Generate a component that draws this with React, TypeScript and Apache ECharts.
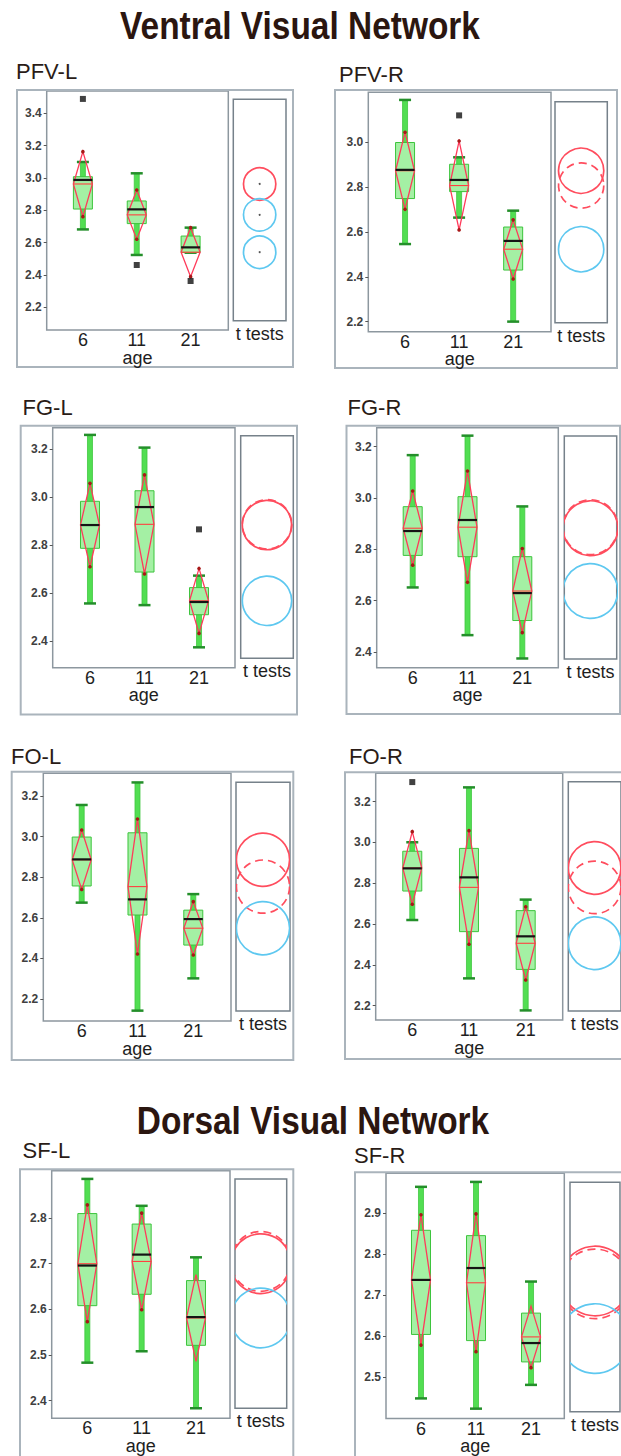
import React, { useEffect, useRef } from 'react';
import * as echarts from 'echarts';

const FONT = "'Liberation Sans', Arial, Helvetica, sans-serif";
const AGES = ['6', '11', '21'];

// ---------- data: [whiskerLow, q1, median, q3, whiskerHigh] per age ----------
const PFV_L_BOX = [[2.682, 2.808, 2.988, 3.008, 3.099], [2.524, 2.718, 2.806, 2.858, 3.029], [2.538, 2.54, 2.571, 2.641, 2.693]];
const PFV_L_MEAN = [2.963, 2.772, 2.541];
const PFV_L_CI = [[2.761, 3.163], [2.621, 2.926], [2.39, 2.693]];
const PFV_L_OUT = [[0, 3.489], [1, 2.462], [2, 2.363]];
const PFV_L_TICKS = [2.2, 2.4, 2.6, 2.8, 3.0, 3.2, 3.4];
const PFV_L_RADIUS = 0.1;
const PFV_L_CIRCLES = [0, 2, 2];

const PFV_R_BOX = [[2.546, 2.749, 2.877, 2.999, 3.189], [2.664, 2.78, 2.832, 2.902, 2.933], [2.2, 2.43, 2.56, 2.622, 2.695]];
const PFV_R_MEAN = [2.873, 2.807, 2.523];
const PFV_R_CI = [[2.701, 3.045], [2.609, 3.006], [2.39, 2.654]];
const PFV_R_OUT = [[1, 3.12]];
const PFV_R_TICKS = [2.2, 2.4, 2.6, 2.8, 3.0];
const PFV_R_RADIUS = 0.101;
const PFV_R_CIRCLES = [0, 1, 2];

const FG_L_BOX = [[2.557, 2.787, 2.884, 2.983, 3.26], [2.55, 2.688, 2.959, 3.027, 3.207], [2.374, 2.51, 2.563, 2.623, 2.673]];
const FG_L_MEAN = [2.884, 2.887, 2.568];
const FG_L_CI = [[2.71, 3.058], [2.68, 3.093], [2.432, 2.703]];
const FG_L_OUT = [[2, 2.866]];
const FG_L_TICKS = [2.4, 2.6, 2.8, 3.0, 3.2];
const FG_L_RADIUS = 0.103;
const FG_L_CIRCLES = [0, 1, 2];

const FG_R_BOX = [[2.651, 2.776, 2.871, 2.966, 3.167], [2.465, 2.771, 2.914, 3.005, 3.243], [2.374, 2.522, 2.629, 2.771, 2.967]];
const FG_R_MEAN = [2.882, 2.886, 2.637];
const FG_R_CI = [[2.738, 3.027], [2.671, 3.105], [2.475, 2.803]];
const FG_R_OUT: number[][] = [];
const FG_R_TICKS = [2.4, 2.6, 2.8, 3.0, 3.2];
const FG_R_RADIUS = 0.107;
const FG_R_CIRCLES = [0, 1, 2];

const FO_L_BOX = [[2.675, 2.757, 2.888, 2.998, 3.156], [2.143, 2.614, 2.691, 3.019, 3.267], [2.302, 2.466, 2.594, 2.638, 2.717]];
const FO_L_MEAN = [2.886, 2.754, 2.549];
const FO_L_CI = [[2.74, 3.033], [2.422, 3.087], [2.417, 2.68]];
const FO_L_OUT: number[][] = [];
const FO_L_TICKS = [2.2, 2.4, 2.6, 2.8, 3.0, 3.2];
const FO_L_RADIUS = 0.131;
const FO_L_CIRCLES = [0, 1, 2];

const FO_R_BOX = [[2.62, 2.762, 2.873, 2.957, 3.001], [2.334, 2.563, 2.829, 2.971, 3.27], [2.177, 2.378, 2.54, 2.666, 2.72]];
const FO_R_MEAN = [2.875, 2.78, 2.506];
const FO_R_CI = [[2.697, 3.053], [2.501, 3.058], [2.326, 2.685]];
const FO_R_OUT = [[0, 3.296]];
const FO_R_TICKS = [2.2, 2.4, 2.6, 2.8, 3.0, 3.2];
const FO_R_RADIUS = 0.129;
const FO_R_CIRCLES = [0, 1, 2];

const SF_L_BOX = [[2.483, 2.608, 2.696, 2.81, 2.886], [2.508, 2.633, 2.72, 2.787, 2.827], [2.383, 2.521, 2.583, 2.663, 2.714]];
const SF_L_MEAN = [2.7, 2.705, 2.581];
const SF_L_CI = [[2.573, 2.829], [2.599, 2.811], [2.486, 2.676]];
const SF_L_OUT: number[][] = [];
const SF_L_TICKS = [2.4, 2.5, 2.6, 2.7, 2.8];
const SF_L_RADIUS = 0.0655;
const SF_L_CIRCLES = [0, 1, 2];

const SF_R_BOX = [[2.448, 2.604, 2.737, 2.858, 2.964], [2.423, 2.589, 2.766, 2.845, 2.976], [2.481, 2.537, 2.583, 2.656, 2.733]];
const SF_R_MEAN = [2.737, 2.73, 2.598];
const SF_R_CI = [[2.578, 2.896], [2.562, 2.898], [2.523, 2.673]];
const SF_R_OUT: number[][] = [];
const SF_R_TICKS = [2.5, 2.6, 2.7, 2.8, 2.9];
const SF_R_RADIUS = 0.084;
const SF_R_CIRCLES = [0, 1, 2];

// ---------- layout (pixels) ----------
type Layout = {
  tx: number; ty: number;
  frame: number[]; grid: number[]; tFrame: number[];
  yMin: number; yMax: number; xMin: number; xMax: number;
};
const L_PFV_L: Layout = { tx: 16, ty: 71.7, frame: [17, 90, 293, 367], grid: [46.7, 91, 228.3, 330], tFrame: [233.3, 99.3, 286, 320.7], yMin: 2.06, yMax: 3.538, xMin: -0.672, xMax: 2.7 };
const L_PFV_R: Layout = { tx: 339, ty: 74.2, frame: [335, 90, 617, 368], grid: [368.3, 92.3, 551, 331.7], tFrame: [555, 101.7, 607.3, 322.7], yMin: 2.155, yMax: 3.223, xMin: -0.68, xMax: 2.7 };
const L_FG_L: Layout = { tx: 22.5, ty: 407.5, frame: [20.7, 425.7, 297, 714.6], grid: [52.7, 427.7, 235, 667.7], tFrame: [240.7, 435.7, 293.3, 658.3], yMin: 2.289, yMax: 3.29, xMin: -0.684, xMax: 2.66 };
const L_FG_R: Layout = { tx: 347.5, ty: 407.5, frame: [346.5, 425.7, 620, 714], grid: [376.7, 427.7, 558.3, 667.7], tFrame: [564.3, 436, 616.7, 659], yMin: 2.338, yMax: 3.274, xMin: -0.657, xMax: 2.657 };
const L_FO_L: Layout = { tx: 11, ty: 756.7, frame: [11.7, 771.7, 293.3, 1060], grid: [43.3, 773.3, 231, 1021], tFrame: [236, 782.3, 290, 1011], yMin: 2.092, yMax: 3.312, xMin: -0.688, xMax: 2.676 };
const L_FO_R: Layout = { tx: 349, ty: 756.7, frame: [345, 772.3, 626, 1059], grid: [375.7, 773.3, 562.7, 1020], tFrame: [568.3, 781.7, 622, 1011], yMin: 2.13, yMax: 3.339, xMin: -0.645, xMax: 2.653 };
const L_SF_L: Layout = { tx: 22.5, ty: 1150.8, frame: [20, 1169.3, 293.3, 1464], grid: [51.7, 1170.7, 230, 1418.3], tFrame: [235, 1179, 286.7, 1408.3], yMin: 2.361, yMax: 2.904, xMin: -0.656, xMax: 2.626 };
const L_SF_R: Layout = { tx: 354, ty: 1155, frame: [355, 1172.3, 630, 1464], grid: [386, 1173.3, 564.3, 1421], tFrame: [570, 1182.3, 623, 1411.7], yMin: 2.399, yMax: 2.997, xMin: -0.636, xMax: 2.605 };

const PANELS = [
  { name: 'PFV-L', box: PFV_L_BOX, mean: PFV_L_MEAN, ci: PFV_L_CI, out: PFV_L_OUT, ticks: PFV_L_TICKS, radius: PFV_L_RADIUS, circles: PFV_L_CIRCLES, dots: 1, L: L_PFV_L },
  { name: 'PFV-R', box: PFV_R_BOX, mean: PFV_R_MEAN, ci: PFV_R_CI, out: PFV_R_OUT, ticks: PFV_R_TICKS, radius: PFV_R_RADIUS, circles: PFV_R_CIRCLES, dots: 0, L: L_PFV_R },
  { name: 'FG-L', box: FG_L_BOX, mean: FG_L_MEAN, ci: FG_L_CI, out: FG_L_OUT, ticks: FG_L_TICKS, radius: FG_L_RADIUS, circles: FG_L_CIRCLES, dots: 0, L: L_FG_L },
  { name: 'FG-R', box: FG_R_BOX, mean: FG_R_MEAN, ci: FG_R_CI, out: FG_R_OUT, ticks: FG_R_TICKS, radius: FG_R_RADIUS, circles: FG_R_CIRCLES, dots: 0, L: L_FG_R },
  { name: 'FO-L', box: FO_L_BOX, mean: FO_L_MEAN, ci: FO_L_CI, out: FO_L_OUT, ticks: FO_L_TICKS, radius: FO_L_RADIUS, circles: FO_L_CIRCLES, dots: 0, L: L_FO_L },
  { name: 'FO-R', box: FO_R_BOX, mean: FO_R_MEAN, ci: FO_R_CI, out: FO_R_OUT, ticks: FO_R_TICKS, radius: FO_R_RADIUS, circles: FO_R_CIRCLES, dots: 0, L: L_FO_R },
  { name: 'SF-L', box: SF_L_BOX, mean: SF_L_MEAN, ci: SF_L_CI, out: SF_L_OUT, ticks: SF_L_TICKS, radius: SF_L_RADIUS, circles: SF_L_CIRCLES, dots: 0, L: L_SF_L },
  { name: 'SF-R', box: SF_R_BOX, mean: SF_R_MEAN, ci: SF_R_CI, out: SF_R_OUT, ticks: SF_R_TICKS, radius: SF_R_RADIUS, circles: SF_R_CIRCLES, dots: 0, L: L_SF_R },
];

const renderBox = (params: any, api: any) => {
  const x = api.value(0);
  const pt = (k: number) => api.coord([x, api.value(k)]);
  const pLo = pt(1), pQ1 = pt(2), pMed = pt(3), pQ3 = pt(4), pHi = pt(5);
  const pMean = pt(6), pCiLo = pt(7), pCiHi = pt(8);
  const cx = pLo[0];
  const bw = 19, hw = bw / 2, ww = 5, cw = 12;
  const hline = (y: number, w: number, stroke: string, lw: number) => ({
    type: 'line', shape: { x1: cx - w / 2, y1: y, x2: cx + w / 2, y2: y }, style: { stroke, lineWidth: lw },
  });
  return {
    type: 'group',
    children: [
      { type: 'rect', shape: { x: cx - ww / 2, y: pHi[1], width: ww, height: pLo[1] - pHi[1] }, style: { fill: '#52de52', stroke: '#40c640', lineWidth: 0.8 } },
      hline(pHi[1], cw, '#248f2a', 2.5),
      hline(pLo[1], cw, '#248f2a', 2.5),
      { type: 'rect', shape: { x: cx - hw, y: pQ3[1], width: bw, height: pQ1[1] - pQ3[1] }, style: { fill: '#a4f0a4', stroke: '#3cc43c', lineWidth: 1 } },
      { type: 'polygon', shape: { points: [[cx, pCiHi[1]], [cx + hw, pMean[1]], [cx, pCiLo[1]], [cx - hw, pMean[1]]] }, style: { fill: 'none', stroke: '#ff3a5a', lineWidth: 1.3 } },
      hline(pMean[1], bw, '#ff4040', 1.1),
      hline(pMed[1], bw, '#151515', 2.2),
      { type: 'circle', shape: { cx, cy: pCiHi[1], r: 1.8 }, style: { fill: '#a81818' } },
      { type: 'circle', shape: { cx, cy: pCiLo[1], r: 1.8 }, style: { fill: '#a81818' } },
    ],
  };
};

const renderCircle = (params: any, api: any) => {
  const c = api.coord([0, api.value(1)]);
  const r = api.size([0, api.value(2)])[1];
  const s = api.value(3);
  const dot = api.value(4);
  const color = s === 2 ? '#5ec8f0' : '#ff4d5e';
  const children: any[] = [
    { type: 'circle', shape: { cx: c[0], cy: c[1], r }, style: { fill: 'none', stroke: color, lineWidth: 1.7, lineDash: s === 1 ? [8, 5] : null } },
  ];
  if (dot) children.push({ type: 'circle', shape: { cx: c[0], cy: c[1], r: 1 }, style: { fill: '#555' } });
  return { type: 'group', children };
};

function buildOption() {
  const grid: any[] = [], xAxis: any[] = [], yAxis: any[] = [], series: any[] = [], graphic: any[] = [];

  graphic.push({ type: 'text', x: 300, y: 26.5, scaleX: 0.88, style: { text: 'Ventral Visual Network', font: `bold 38px ${FONT}`, fill: '#2b1610', align: 'center', verticalAlign: 'middle' } });
  graphic.push({ type: 'text', x: 313, y: 1121, scaleX: 0.88, style: { text: 'Dorsal Visual Network', font: `bold 38px ${FONT}`, fill: '#2b1610', align: 'center', verticalAlign: 'middle' } });

  PANELS.forEach((p, i) => {
    const L = p.L;
    const g = L.grid, t = L.tFrame, f = L.frame;
    const gi = 2 * i, ti = 2 * i + 1;

    graphic.push({ type: 'rect', shape: { x: f[0], y: f[1], width: f[2] - f[0], height: f[3] - f[1] }, style: { fill: 'none', stroke: '#aab4bc', lineWidth: 2 } });
    graphic.push({ type: 'text', x: L.tx, y: L.ty, style: { text: p.name, font: `22px ${FONT}`, fill: '#2a1c17', align: 'left', verticalAlign: 'middle' } });

    grid.push({ left: g[0], top: g[1], width: g[2] - g[0], height: g[3] - g[1], show: true, borderColor: '#8d979f', borderWidth: 1.5, backgroundColor: 'transparent' });
    grid.push({ left: t[0], top: t[1], width: t[2] - t[0], height: t[3] - t[1], show: true, borderColor: '#76818a', borderWidth: 1.5, backgroundColor: 'transparent' });

    xAxis.push({
      gridIndex: gi, type: 'value', min: L.xMin, max: L.xMax,
      axisLine: { show: false, onZero: false }, axisTick: { show: false }, splitLine: { show: false },
      axisLabel: { customValues: [0, 1, 2], formatter: (v: number) => AGES[Math.round(v)] ?? '', fontSize: 18, lineHeight: 14, color: '#1e1e1e', margin: 3, fontFamily: FONT },
      name: 'age', nameLocation: 'middle', nameGap: 27.5, nameMoveOverlap: false,
      nameTextStyle: { fontSize: 18, lineHeight: 14, color: '#1e1e1e', fontFamily: FONT, verticalAlign: 'middle' },
    });
    xAxis.push({
      gridIndex: ti, type: 'value', min: -1, max: 1,
      axisLine: { show: false, onZero: false }, axisTick: { show: false }, splitLine: { show: false }, axisLabel: { show: false },
      name: 't tests', nameLocation: 'middle', nameGap: 4, nameMoveOverlap: false,
      nameTextStyle: { fontSize: 18, color: '#1e1e1e', fontFamily: FONT, verticalAlign: 'top' },
    });

    yAxis.push({
      gridIndex: gi, type: 'value', min: L.yMin, max: L.yMax,
      axisLine: { show: false, onZero: false }, splitLine: { show: false },
      axisTick: { show: true, customValues: p.ticks, length: 3, lineStyle: { color: '#555', width: 1 } },
      axisLabel: { customValues: p.ticks, formatter: (v: number) => v.toFixed(1), fontSize: 12, fontWeight: 'bold', color: '#404040', margin: 5, fontFamily: FONT },
    });
    const ppu = (g[3] - g[1]) / (L.yMax - L.yMin);
    const tMax = L.yMax - (t[1] - g[1]) / ppu;
    const tMin = L.yMax - (t[3] - g[1]) / ppu;
    yAxis.push({ gridIndex: ti, type: 'value', min: tMin, max: tMax, show: false, axisLine: { onZero: false }, splitLine: { show: false } });

    series.push({
      type: 'custom', xAxisIndex: gi, yAxisIndex: gi, renderItem: renderBox, clip: false,
      encode: { x: 0, y: [1, 5] },
      data: p.box.map((b, k) => [k, ...b, p.mean[k], p.ci[k][0], p.ci[k][1]]),
      z: 2,
    });
    series.push({
      type: 'scatter', xAxisIndex: gi, yAxisIndex: gi, symbol: 'rect', symbolSize: 6,
      itemStyle: { color: '#111' }, data: p.out, z: 3,
    });
    series.push({
      type: 'custom', xAxisIndex: ti, yAxisIndex: ti, renderItem: renderCircle, clip: true,
      encode: { x: 0, y: 1 },
      data: p.mean.map((m, k) => [0, m, p.radius, p.circles[k], p.dots]),
      z: 2,
    });
  });

  return {
    animation: false,
    backgroundColor: '#ffffff',
    textStyle: { fontFamily: FONT },
    grid, xAxis, yAxis, series, graphic,
  };
}

export default function App() {
  const ref = useRef<HTMLDivElement>(null);
  useEffect(() => {
    if (!ref.current) return;
    const chart = echarts.init(ref.current, undefined, { renderer: 'svg' });
    chart.setOption(buildOption() as any);
    return () => chart.dispose();
  }, []);
  return <div ref={ref} style={{ position: 'fixed', left: 0, top: 0, width: 621, height: 1456 }} />;
}
